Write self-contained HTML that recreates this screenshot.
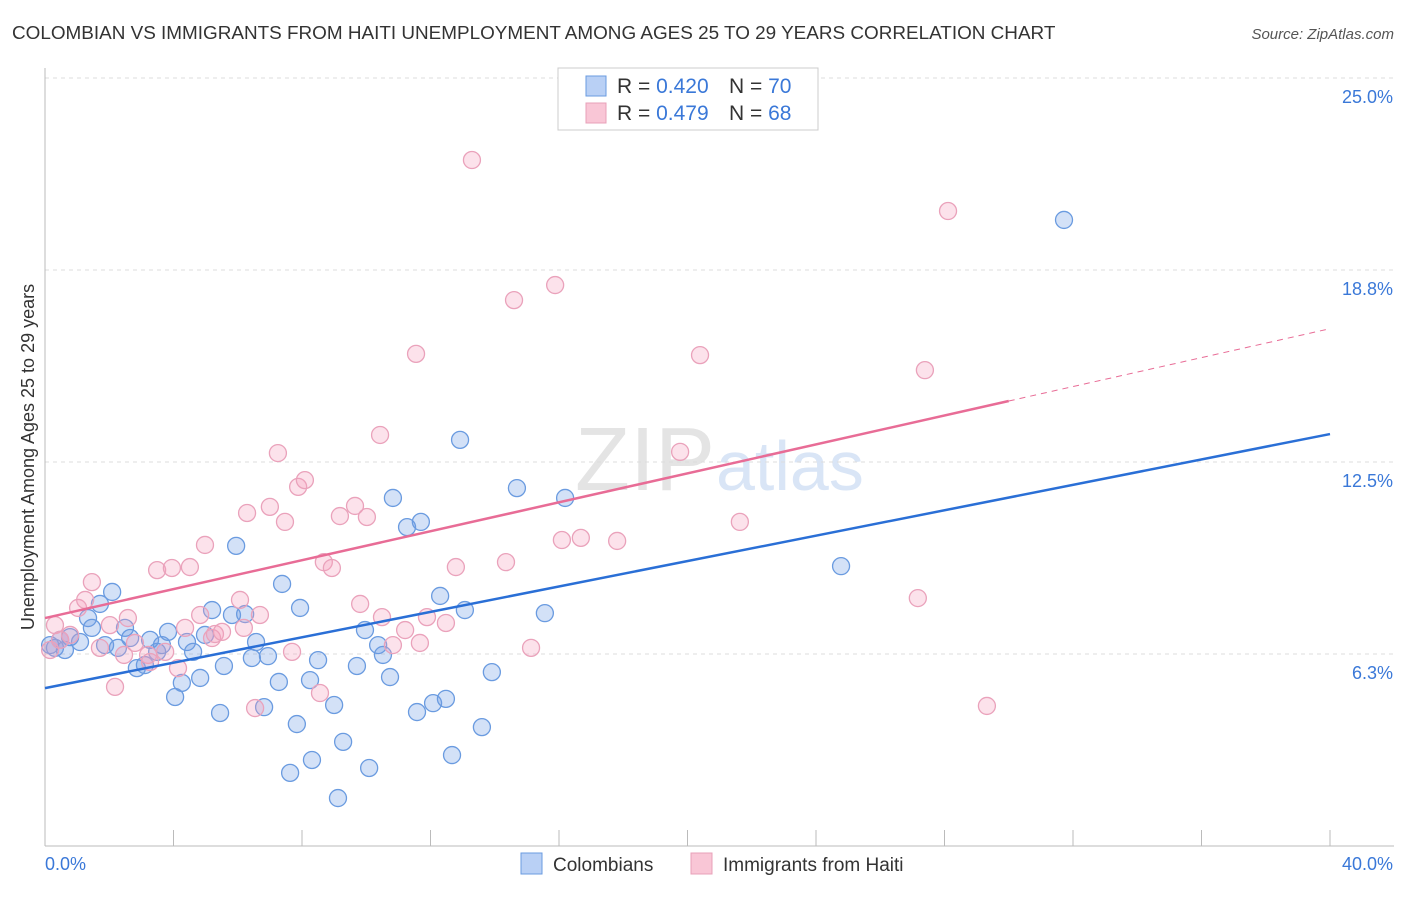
<!DOCTYPE html>
<html><head><meta charset="utf-8"><style>
body{margin:0;background:#fff;font-family:"Liberation Sans",sans-serif;}
svg text{font-family:"Liberation Sans",sans-serif;}
</style></head><body>
<svg id="chart" width="1406" height="892" viewBox="0 0 1406 892">
<text x="12" y="39" font-size="18.9" fill="#333">COLOMBIAN VS IMMIGRANTS FROM HAITI UNEMPLOYMENT AMONG AGES 25 TO 29 YEARS CORRELATION CHART</text>
<text x="1394" y="39" font-size="15" fill="#555" text-anchor="end" font-style="italic">Source: ZipAtlas.com</text>
<text x="715" y="490" font-size="90" fill="#e4e4e4" text-anchor="end" font-family="Liberation Serif">ZIP</text>
<text x="716" y="490" font-size="70" fill="#d9e5f6">atlas</text>
<g id="grid"></g>
<g id="axes"></g>
<g id="marks"></g>
<g id="lines"></g>
<text transform="translate(34,457) rotate(-90)" font-size="18" fill="#333" text-anchor="middle">Unemployment Among Ages 25 to 29 years</text>
<g>
<rect x="558" y="68" width="260" height="62" fill="#fff" stroke="#ccc"/>
<rect x="586" y="76" width="20" height="20" fill="#b9d0f5" stroke="#6a9be0"/>
<rect x="586" y="103" width="20" height="20" fill="#f9c6d6" stroke="#e8a0b8"/>
<text x="617" y="93" font-size="21" fill="#333">R = <tspan fill="#3a78d8">0.420</tspan><tspan x="729">N = </tspan><tspan fill="#3a78d8">70</tspan></text>
<text x="617" y="120" font-size="21" fill="#333">R = <tspan fill="#3a78d8">0.479</tspan><tspan x="729">N = </tspan><tspan fill="#3a78d8">68</tspan></text>
</g>
<g>
<rect x="521" y="853" width="21" height="21" fill="#b9d0f5" stroke="#6a9be0"/>
<text x="553" y="871" font-size="19" fill="#333">Colombians</text>
<rect x="691" y="853" width="21" height="21" fill="#f9c6d6" stroke="#e8a0b8"/>
<text x="723" y="871" font-size="19" fill="#333">Immigrants from Haiti</text>
</g>
</svg>
<script>
const yTicks=[6.25,12.5,18.75,25];
const yTickLabels=["6.3%","12.5%","18.8%","25.0%"];
const xTickLabels=["0.0%","40.0%"];
const blueX=[.16,.31,.47,.62,.78,1.09,1.34,1.46,1.71,1.87,2.09,2.27,2.49,2.65,2.86,3.11,3.27,3.49,3.64,3.83,4.05,4.26,4.42,4.61,4.83,4.98,5.20,5.45,5.57,5.82,5.95,6.23,6.44,6.57,6.82,6.94,7.28,7.38,7.63,7.84,7.94,8.31,8.25,8.50,9.00,9.12,9.28,9.71,9.96,10.09,10.37,10.52,10.74,10.83,11.27,11.70,11.58,12.08,12.30,12.48,12.67,12.92,13.07,13.60,13.91,14.69,15.56,16.19,24.78,31.72];
const blueY=[6.54,6.45,6.71,6.38,6.80,6.64,7.42,7.10,7.88,6.54,8.27,6.45,7.10,6.77,5.79,5.89,6.71,6.32,6.54,6.97,4.85,5.31,6.64,6.32,5.47,6.87,7.68,4.33,5.86,7.52,9.77,7.55,6.12,6.64,4.52,6.18,5.34,8.53,2.38,3.97,7.75,2.80,5.40,6.05,4.59,1.56,3.39,5.86,7.03,2.54,6.54,6.22,5.50,11.33,10.38,10.55,4.36,4.65,8.14,4.79,2.96,13.22,7.68,3.87,5.66,11.65,7.58,11.33,9.11,20.38];
const pinkX=[.16,.31,.47,.78,1.03,1.25,1.46,1.71,2.18,2.02,2.46,2.58,2.80,3.21,3.27,3.49,3.74,3.95,4.14,4.36,4.51,4.83,4.98,5.20,5.29,5.51,6.07,6.19,6.29,6.54,6.69,7.00,7.25,7.47,7.69,7.88,8.09,8.56,8.68,8.93,9.18,9.65,9.81,10.02,10.43,10.49,10.83,11.21,11.55,11.67,11.89,12.48,12.79,13.29,14.35,14.60,15.13,15.88,16.09,16.68,17.81,19.77,20.39,21.63,27.17,27.39,28.11,29.32];
const pinkY=[6.38,7.19,6.71,6.87,7.75,8.01,8.59,6.45,5.18,7.19,6.22,7.42,6.61,6.22,5.99,8.98,6.32,9.05,5.79,7.10,9.08,7.52,9.80,6.77,6.90,6.97,8.01,7.10,10.84,4.49,7.52,11.04,12.79,10.55,6.32,11.69,11.91,4.98,9.24,9.05,10.74,11.07,7.88,10.71,13.38,7.45,6.54,7.03,16.02,6.61,7.45,7.26,9.08,22.33,9.24,17.77,6.45,18.26,9.96,10.03,9.93,12.83,15.98,10.55,8.07,15.49,20.67,4.56];
const blueFit=[5.14,13.41];
const pinkFit=[7.42,16.84];
const pinkSolidEnd=30;

const X=v=>45+v/40*1285;
const Y=v=>846-v*30.72;
const NS="http://www.w3.org/2000/svg";
function mk(tag,attrs,parent){const e=document.createElementNS(NS,tag);for(const k in attrs)e.setAttribute(k,attrs[k]);parent.appendChild(e);return e;}
const grid=document.getElementById('grid'),axes=document.getElementById('axes'),marks=document.getElementById('marks'),lines=document.getElementById('lines');
yTicks.forEach((t,i)=>{
  const g=mk('line',{x1:45,x2:1394,y1:Y(t),y2:Y(t),stroke:'#ddd','stroke-dasharray':'4,4'},grid);
  
  
  const l=mk('text',{x:1393,y:Y(t)+25,'font-size':18,fill:'#3a78d8','text-anchor':'end'},axes);
  l.textContent=yTickLabels[i];
  
  
});
const ax=mk('line',{x1:45,x2:45,y1:68,y2:846,stroke:'#bbb'},axes);


const bx=mk('line',{x1:45,x2:1394,y1:846,y2:846,stroke:'#bbb'},axes);


for(let i=0;i<=10;i++){
  const t=mk('line',{x1:X(i*4),x2:X(i*4),y1:830,y2:846,stroke:'#bbb'},axes);
  
  
}
const xl0=mk('text',{x:45,y:870,'font-size':18,fill:'#3a78d8'},axes);xl0.textContent=xTickLabels[0];


const xl1=mk('text',{x:1393,y:870,'font-size':18,fill:'#3a78d8','text-anchor':'end'},axes);xl1.textContent=xTickLabels[1];


blueX.forEach((x,i)=>{
  const c=mk('circle',{cx:X(x),cy:Y(blueY[i]),r:8.5,fill:'rgba(110,155,230,0.3)',stroke:'#6a9be0','stroke-width':1.3},marks);
  
  
});
pinkX.forEach((x,i)=>{
  const c=mk('circle',{cx:X(x),cy:Y(pinkY[i]),r:8.5,fill:'rgba(245,160,190,0.3)',stroke:'#eaa2bb','stroke-width':1.3},marks);
  
  
});
const bl=mk('line',{x1:X(0),y1:Y(blueFit[0]),x2:X(40),y2:Y(blueFit[1]),stroke:'#2a6fd6','stroke-width':2.5},lines);


const pm=pinkFit[0]+(pinkFit[1]-pinkFit[0])*pinkSolidEnd/40;
const pl=mk('line',{x1:X(0),y1:Y(pinkFit[0]),x2:X(pinkSolidEnd),y2:Y(pm),stroke:'#e86c96','stroke-width':2.5},lines);


const pd=mk('line',{x1:X(pinkSolidEnd),y1:Y(pm),x2:X(40),y2:Y(pinkFit[1]),stroke:'#e86c96','stroke-width':1,'stroke-dasharray':'6,5'},lines);


</script>
</body></html>
